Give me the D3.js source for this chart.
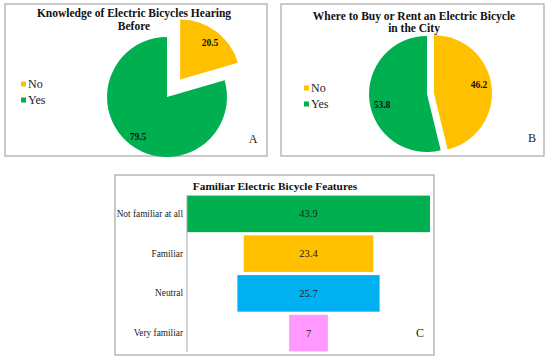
<!DOCTYPE html>
<html><head><meta charset="utf-8">
<script src="https://cdn.jsdelivr.net/npm/d3@7"></script>
<style>body{margin:0;background:#fff}svg{display:block}</style>
</head><body><svg id="c" width="550" height="360"></svg>
<script>
const pieCategories = ["No", "Yes"];
const pieAValues = [20.5, 79.5];
const pieBValues = [46.2, 53.8];
const funnelCategories = ["Not familiar at all", "Familiar", "Neutral", "Very familiar"];
const funnelValues = [43.9, 23.4, 25.7, 7];
const pieColors = ["#FFC000", "#00B050"];
const funnelColors = ["#00B050", "#FFC000", "#00B0F0", "#FF99FF"];

const FONT = '"Liberation Serif", "Times New Roman", serif';
const svg = d3.select("#c");
const border = "#A6A6A6";

function txt(sel) { return sel.append("text").style("font-family", FONT); }

function panel(x, y, w, h) {
  svg.append("rect").attr("x", x).attr("y", y).attr("width", w).attr("height", h)
    .attr("fill", "#fff").attr("stroke", border).attr("stroke-width", 1.2);
}
panel(5, 4, 262, 152);
panel(281, 4, 263, 152);
panel(115, 175, 319, 180);

function pieChart(opts) {
  const g = svg.append("g").attr("transform", `translate(${opts.cx},${opts.cy})`);
  const arcs = d3.pie().sort(null).value(d => d)(opts.values);
  const arc = d3.arc().innerRadius(0).outerRadius(opts.r);
  arcs.forEach((a, i) => {
    const mid = (a.startAngle + a.endAngle) / 2;
    const off = opts.explode[i];
    const dx = Math.sin(mid) * off, dy = -Math.cos(mid) * off;
    g.append("path").attr("d", arc(a)).attr("fill", pieColors[i])
      .attr("transform", `translate(${dx},${dy})`);
    txt(g).attr("x", opts.labelPos[i][0] - opts.cx).attr("y", opts.labelPos[i][1] - opts.cy)
      .attr("text-anchor", "middle").attr("dominant-baseline", "central")
      .attr("font-size", 9.5).attr("font-weight", "bold").attr("fill", "#111").text(opts.values[i]);
  });
  opts.title.forEach((t, i) => {
    txt(svg).attr("x", opts.titleX).attr("y", opts.titleY + i * 12.5)
      .attr("text-anchor", "middle").attr("font-size", 11.5).attr("font-weight", "bold").attr("fill", "#111").text(t);
  });
  pieCategories.forEach((c, i) => {
    svg.append("rect").attr("x", opts.legX).attr("y", opts.legY + i * 16 - 2.5).attr("width", 5).attr("height", 5)
      .attr("fill", pieColors[i]);
    txt(svg).attr("x", opts.legX + 7).attr("y", opts.legY + i * 16)
      .attr("dominant-baseline", "central").attr("font-size", 12).attr("fill", "#222").text(c);
  });
  txt(svg).attr("x", opts.letter[0]).attr("y", opts.letter[1])
    .attr("text-anchor", "middle").attr("dominant-baseline", "central").attr("font-size", 12).attr("fill", "#222").text(opts.letterText);
}

pieChart({cx: 167, cy: 97, r: 60, values: pieAValues, explode: [22, 0],
  labelPos: [[210, 43], [138, 137]], title: ["Knowledge of Electric Bicycles Hearing", "Before"],
  titleX: 134, titleY: 17, legX: 21, legY: 84, letter: [253, 139], letterText: "A"});

pieChart({cx: 427, cy: 94, r: 58, values: pieBValues, explode: [7, 0],
  labelPos: [[479, 85], [382, 105]], title: ["Where to Buy or Rent an Electric Bicycle", "in the City"],
  titleX: 414, titleY: 19.5, legX: 304, legY: 88, letter: [532, 138], letterText: "B"});

// Funnel chart
const fx0 = 187, fx1 = 430;
const center = (fx0 + fx1) / 2;
const wScale = d3.scaleLinear().domain([0, d3.max(funnelValues)]).range([0, fx1 - fx0]);
const yScale = d3.scaleBand().domain(funnelCategories).range([194, 353]).paddingInner(0.08).paddingOuter(0.04);

txt(svg).attr("x", 275).attr("y", 189.5).attr("text-anchor", "middle")
  .attr("font-size", 11.3).attr("font-weight", "bold").attr("fill", "#111").text("Familiar Electric Bicycle Features");

funnelCategories.forEach((c, i) => {
  const w = wScale(funnelValues[i]);
  svg.append("rect").attr("x", center - w / 2).attr("y", yScale(c))
    .attr("width", w).attr("height", yScale.bandwidth()).attr("fill", funnelColors[i]);
  txt(svg).attr("x", center).attr("y", yScale(c) + yScale.bandwidth() / 2)
    .attr("text-anchor", "middle").attr("dominant-baseline", "central").attr("font-size", 10.5)
    .attr("fill", "#222").text(funnelValues[i]);
});

const axis = svg.append("g").attr("transform", `translate(${fx0},0)`)
  .call(d3.axisLeft(yScale).tickSize(0).tickPadding(4));
axis.select(".domain").attr("stroke", "#A6A6A6").attr("d", "M0,195V352");
axis.selectAll("text").style("font-family", FONT).attr("font-size", 9.3).attr("fill", "#222");

txt(svg).attr("x", 420).attr("y", 333).attr("text-anchor", "middle")
  .attr("dominant-baseline", "central").attr("font-size", 12).attr("fill", "#222").text("C");
</script></body></html>
